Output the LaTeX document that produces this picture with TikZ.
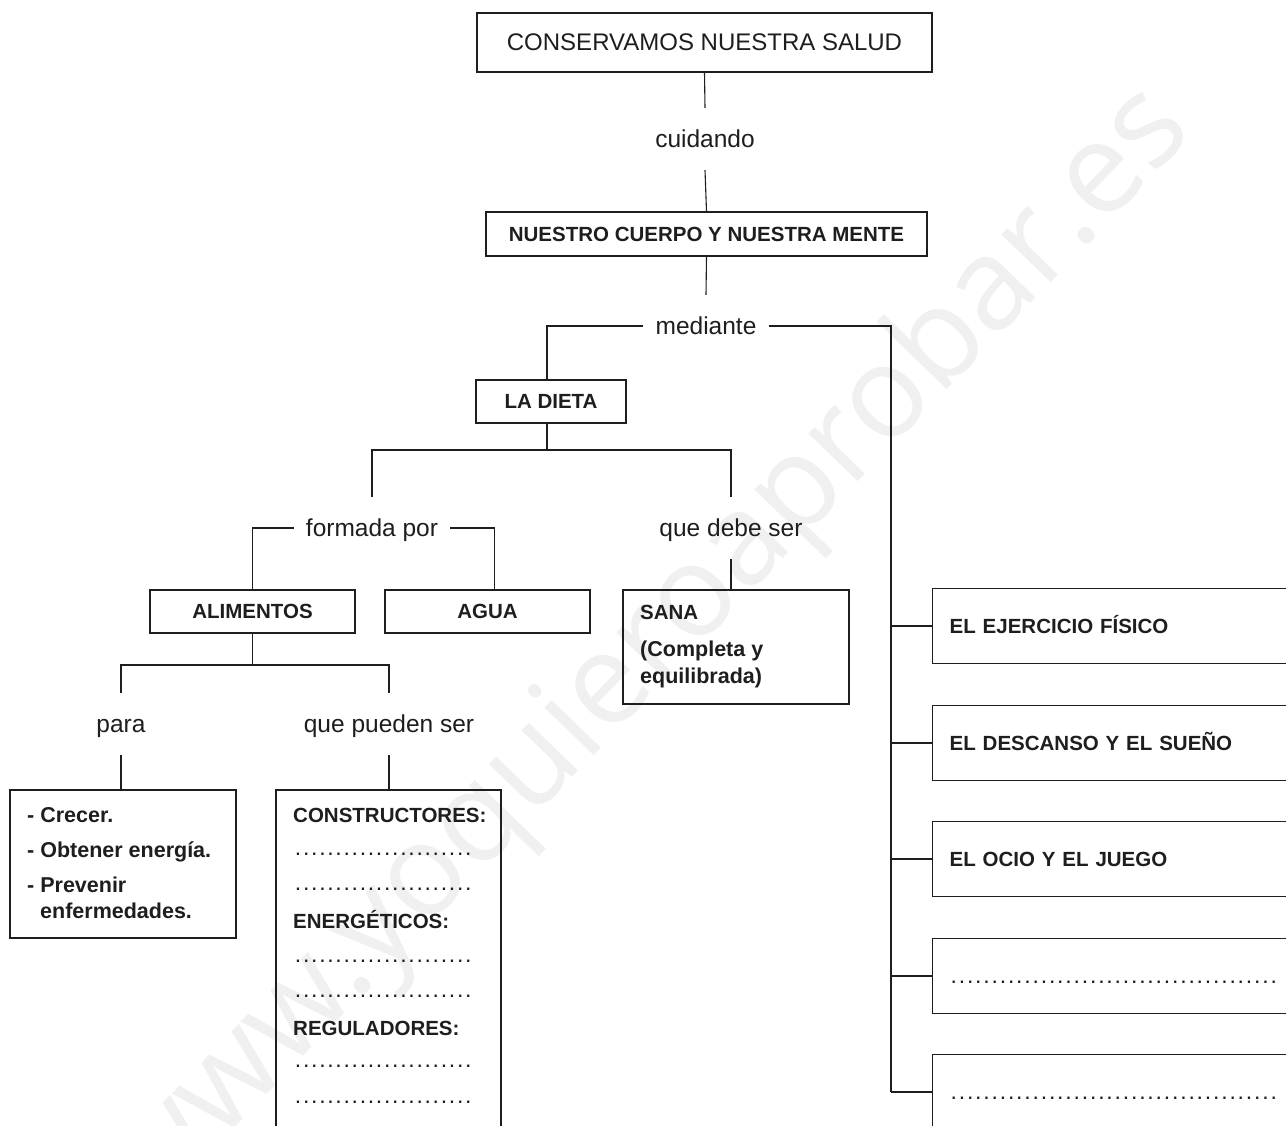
\documentclass[tikz,border=0pt]{standalone}
\usepackage{fontspec}
\setmainfont{Liberation Sans}
\newfontfamily\wmfont{Open Sans}
\usetikzlibrary{calc}
\definecolor{ink}{HTML}{1E1E1E}
\definecolor{wm}{HTML}{F0F0F0}
\newcommand{\dotrow}[2]{\hbox to #1{\cleaders\hbox to #2{\hss.\hss}\hfill}}
\tikzset{
  box/.style={draw=ink, line width=1.4pt, rectangle, inner sep=0pt, text=ink},
  conn/.style={draw=ink, line width=1.1pt},
  lab/.style={inner xsep=12pt, inner ysep=0pt, minimum height=62pt, text height=17pt, text depth=0pt, text=ink, font=\fontsize{24.5}{28}\selectfont},
  bcap/.style={font=\fontsize{20.5}{24}\selectfont\bfseries},
  bmix/.style={font=\fontsize{21.5}{25}\selectfont\bfseries},
  dots/.style={font=\fontsize{23}{26}\selectfont},
  txt/.style={inner sep=0pt, anchor=base west, text=ink},
  rbox/.style={box, anchor=west, minimum width=424pt, minimum height=75pt, text width=390pt, align=left, inner xsep=17pt, text height=14.7pt, text depth=0pt, bcap},
}
\begin{document}
\begin{tikzpicture}[x=1pt,y=-1pt]
\useasboundingbox (0,0) rectangle (1286,1126);
\clip (0,0) rectangle (1286,1126);
\fill[white] (0,0) rectangle (1286,1126);
% watermark
\node[rotate=46, anchor=base west, inner sep=0pt, text=wm, font=\wmfont\fontsize{128}{130}\selectfont] (wmark) at (151,1214) {www.yoquieroaprobar.es};

% top chain
\node[box, minimum width=455pt, minimum height=59pt, font=\fontsize{24}{28}\selectfont] (salud) at (704.5,42.5) {CONSERVAMOS NUESTRA SALUD};
\node[lab] (cuid) at (705,139) {cuidando};
\node[box, bcap, minimum width=441pt, minimum height=44pt] (cuerpo) at (706.5,234) {NUESTRO CUERPO Y NUESTRA MENTE};
\node[lab] (med) at (706,326) {mediante};

% la dieta branch
\node[box, bcap, minimum width=150pt, minimum height=43pt] (dieta) at (551,401.5) {LA DIETA};
\coordinate (dj) at (547,450);
\node[lab] (form) at (372,528) {formada por};
\node[lab] (debe) at (731,528) {que debe ser};
\node[box, bcap, minimum width=205pt, minimum height=43pt] (alim) at (252.5,611.5) {ALIMENTOS};
\node[box, bcap, minimum width=205pt, minimum height=43pt] (agua) at (487.5,611.5) {AGUA};
\node[box, minimum width=226pt, minimum height=114pt] (sana) at (736,647) {};
\node[txt, bcap] (sana1) at (640,619) {SANA};
\node[txt, bmix] (sana2) at (640,656) {(Completa y};
\node[txt, bmix] (sana3) at (640,683) {equilibrada)};

\coordinate (aj) at (252.5,665);
\node[lab] (para) at (121,724) {para};
\node[lab] (pued) at (389,724) {que pueden ser};

\node[box, minimum width=226pt, minimum height=148pt] (crec) at (123,864) {};
\node[txt, bmix] (crec1) at (27,822) {- Crecer.};
\node[txt, bmix] (crec2) at (27,857) {- Obtener energía.};
\node[txt, bmix] (crec3) at (27,892) {- Prevenir};
\node[txt, bmix] (crec4) at (40,918) {enfermedades.};

\node[box, minimum width=225pt, minimum height=380pt] (cons) at (388.5,980) {};
\node[txt, bcap] (c1) at (293,822) {CONSTRUCTORES:};
\node[txt, dots] (c2) at (290,855) {\dotrow{186pt}{8.1pt}};
\node[txt, dots] (c3) at (290,890) {\dotrow{186pt}{8.1pt}};
\node[txt, bcap] (c4) at (293,928) {ENERGÉTICOS:};
\node[txt, dots] (c5) at (290,962) {\dotrow{186pt}{8.1pt}};
\node[txt, dots] (c6) at (290,997) {\dotrow{186pt}{8.1pt}};
\node[txt, bcap] (c7) at (293,1035) {REGULADORES:};
\node[txt, dots] (c8) at (290,1067) {\dotrow{186pt}{8.1pt}};
\node[txt, dots] (c9) at (290,1103) {\dotrow{186pt}{8.1pt}};

% right column
\coordinate (spine) at (891,326);
\node[rbox] (r1) at (932,626) {EL EJERCICIO FÍSICO};
\node[rbox] (r2) at (932,743) {EL DESCANSO Y EL SUEÑO};
\node[rbox] (r3) at (932,859) {EL OCIO Y EL JUEGO};
\node[rbox, font=\fontsize{23}{26}\selectfont\mdseries] (r4) at (932,976) {\mbox{\kern-4pt\dotrow{336pt}{8.2pt}}};
\node[rbox, font=\fontsize{23}{26}\selectfont\mdseries] (r5) at (932,1092) {\mbox{\kern-4pt\dotrow{336pt}{8.2pt}}};

% connectors
\draw[conn] (salud.south) -- (cuid.north);
\draw[conn] (cuid.south) -- (cuerpo.north);
\draw[conn] (cuerpo.south) -- (med.north);
\draw[conn] (med.west) -| ($(dieta.north)+(-4,0)$);
\draw[conn] (med.east) -- (spine) -- (spine |- r5.west);
\foreach \r in {r1,r2,r3,r4,r5} \draw[conn] (\r.west) -- (spine |- \r.west);
\draw[conn] ($(dieta.south)+(-4,0)$) -- (dj);
\draw[conn] (form.north) |- (dj) -| (debe.north);
\draw[conn] (form.west) -| (alim.north);
\draw[conn] (form.east) -| ($(agua.north)+(7,0)$);
\draw[conn] (debe.south) -- (debe.south |- sana.north);
\draw[conn] (alim.south) -- (aj);
\draw[conn] (para.north) |- (aj) -| (pued.north);
\draw[conn] (para.south) -- (para.south |- crec.north);
\draw[conn] (pued.south) -- (pued.south |- cons.north);
\end{tikzpicture}
\end{document}
